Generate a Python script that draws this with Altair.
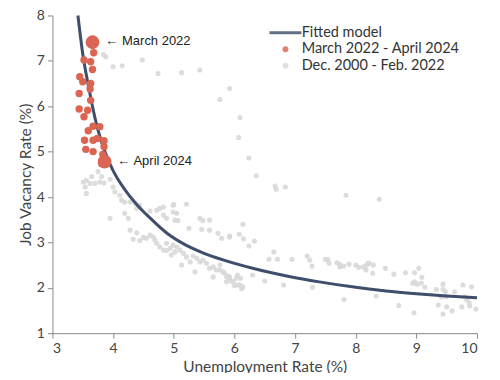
import altair as alt
import pandas as pd

# ---------------- data ----------------
SERIES = ["Fitted model", "March 2022 - April 2024", "Dec. 2000 - Feb. 2022"]

# fitted model (Beveridge curve)
fit_u = [3.42, 3.50, 3.60, 3.70, 3.80, 3.90, 4.00, 4.20, 4.40, 4.60, 4.90, 5.20,
         5.50, 5.80, 6.30, 6.90, 7.40, 8.00, 8.50, 9.00, 9.50, 10.00]
fit_v = [8.00, 7.15, 6.40, 5.75, 5.25, 4.88, 4.58, 4.15, 3.82, 3.55, 3.19, 2.94,
         2.76, 2.62, 2.43, 2.25, 2.13, 2.01, 1.93, 1.87, 1.82, 1.78]

# March 2022 - April 2024 (first = March 2022, last = April 2024)
red_u = [3.66, 3.68, 3.52, 3.63, 3.66, 3.45, 3.50, 3.63, 3.62, 3.44, 3.63, 3.44,
         3.58, 3.52, 3.67, 3.78, 3.59, 3.53, 3.67, 3.74, 3.85, 3.55, 3.67, 3.85,
         3.83, 3.81, 3.86]
red_v = [7.41, 7.18, 7.02, 6.98, 6.81, 6.65, 6.54, 6.50, 6.38, 6.28, 6.13, 5.94,
         5.91, 5.77, 5.56, 5.55, 5.46, 5.25, 5.25, 5.29, 5.24, 5.05, 5.00, 5.11,
         4.94, 4.74, 4.78]

# Dec. 2000 - Feb. 2022
gray_u = [3.84, 3.88, 4.00, 4.15, 4.48, 4.74, 5.13, 5.43, 5.92, 5.76, 6.09, 6.07,
          6.24, 6.36, 6.67, 6.69, 6.84, 7.84, 8.39,
          3.51, 3.56, 3.65, 3.62, 3.70, 3.78, 3.81, 3.85, 3.95, 3.75, 3.54, 3.56,
          4.00, 4.03, 4.11, 4.14, 4.19, 4.28, 4.36, 4.39, 4.44, 4.19, 4.25, 3.95,
          4.61, 4.72, 4.77, 4.83, 4.88, 4.99, 5.05, 5.02, 5.07, 4.99, 5.21, 5.25,
          5.43, 5.48, 5.59, 5.59, 5.46, 5.73, 5.79, 5.92, 5.00, 4.83,
          4.28, 4.39, 4.33, 4.44, 4.50, 4.55, 4.61, 4.66, 4.69, 4.72, 4.77, 4.83,
          4.88, 4.94, 4.99, 5.02, 5.05, 5.10, 5.16, 5.21, 5.27, 5.32, 5.38, 5.35,
          5.43, 5.48, 5.54, 5.59, 5.65, 5.70, 5.76, 5.81, 5.87, 5.92, 5.98, 6.03,
          5.65, 5.87, 4.96, 5.13, 4.88,
          6.14, 5.92, 6.08, 6.15, 6.33, 6.24, 6.65, 6.57, 6.71, 6.95, 7.20, 7.24,
          7.28, 7.50, 7.54, 7.56, 7.69, 7.74, 7.80, 7.89, 8.00, 8.05, 8.18, 8.17,
          8.20, 8.29, 8.28, 8.49, 8.63, 8.82, 8.97, 9.04, 9.09, 8.97, 9.01, 9.08,
          9.14, 8.94,
          9.33, 9.44, 9.44, 9.48, 9.41, 9.49, 9.63, 9.77, 9.91, 9.80, 9.83, 9.87,
          9.88, 9.98, 9.75, 9.59, 9.50, 9.44, 9.36, 8.96, 8.71, 8.34, 7.81, 7.29,
          6.81, 6.50, 6.30, 6.14, 6.10, 6.09, 5.92, 5.95, 6.05, 6.00, 6.12,
          5.76, 5.84, 5.90, 6.06, 7.73, 8.13, 8.22]
gray_v = [7.14, 7.09, 6.87, 6.89, 7.02, 6.72, 6.74, 6.80, 6.39, 6.15, 5.75, 5.31,
          4.86, 4.47, 4.24, 4.17, 4.22, 4.04, 3.95,
          4.33, 4.37, 4.45, 4.30, 4.30, 4.33, 4.45, 4.31, 4.39, 4.56, 4.22, 4.08,
          4.22, 4.11, 4.04, 3.93, 3.89, 3.89, 3.86, 3.75, 3.82, 3.64, 3.53, 3.53,
          3.69, 3.71, 3.75, 3.60, 3.53, 3.67, 3.64, 3.49, 3.48, 3.82, 3.84, 3.31,
          3.53, 3.48, 3.49, 3.27, 3.29, 3.20, 3.09, 3.14, 3.84, 3.78,
          3.27, 3.21, 3.07, 3.04, 3.11, 3.09, 3.16, 3.12, 3.05, 2.98, 2.90, 2.83,
          2.82, 2.87, 2.94, 2.79, 2.90, 2.83, 2.76, 2.68, 2.57, 2.70, 2.65, 2.35,
          2.57, 2.61, 2.54, 2.43, 2.46, 2.39, 2.50, 2.35, 2.24, 2.24, 2.13, 2.21,
          2.24, 2.13, 2.72, 2.50, 2.98,
          3.40, 3.12, 3.18, 3.08, 3.03, 2.92, 2.79, 2.63, 2.63, 2.63, 2.70, 2.61,
          2.48, 2.63, 2.62, 2.54, 2.55, 2.46, 2.48, 2.52, 2.50, 2.45, 2.50, 2.39,
          2.54, 2.50, 2.32, 2.43, 2.30, 2.33, 2.33, 2.43, 2.23, 2.13, 2.08, 2.10,
          2.01, 2.10,
          1.96, 2.08, 1.96, 1.91, 1.80, 1.80, 1.91, 2.06, 2.02, 1.80, 1.74, 1.67,
          1.60, 1.53, 1.58, 1.49, 1.58, 1.42, 1.62, 1.45, 1.61, 1.82, 1.74, 2.01,
          2.06, 2.15, 2.28, 2.02, 2.21, 2.06, 2.21, 2.15, 2.28, 2.05, 1.98,
          2.39, 2.32, 2.26, 2.06, 2.52, 2.46, 2.54]

ann_text = ["\u2190 March 2022", "\u2190 April 2024"]

# ---------------- tables ----------------
fit_df = pd.DataFrame({"u": fit_u, "v": fit_v})
red_df = pd.DataFrame({"u": red_u, "v": red_v, "series": SERIES[1]})
red_df["endpoint"] = [i in (0, len(red_u) - 1) for i in range(len(red_u))]
gray_df = pd.DataFrame({"u": gray_u, "v": gray_v, "series": SERIES[2]})
ann_df = pd.DataFrame({"u": [red_u[0], red_u[-1]], "v": [red_v[0], red_v[-1]],
                       "text": ann_text})

COLORS = ["#3F4E6B", "#DB6453", "#D8D8D8"]
LINE_SYMBOL = "M-5.4,-0.5L5.4,-0.5L5.4,0.5L-5.4,0.5Z"

x_enc = alt.X("u:Q", scale=alt.Scale(domain=[3, 10], nice=False),
              axis=alt.Axis(values=list(range(3, 11)), format="d",
                            title="Unemployment Rate (%)",
                            titlePadding=4, labelPadding=3))
y_enc = alt.Y("v:Q", scale=alt.Scale(domain=[1, 8], nice=False),
              axis=alt.Axis(values=list(range(1, 9)), format="d",
                            title="Job Vacancy Rate (%)",
                            titlePadding=3, labelPadding=3))

color_enc = alt.Color("series:N",
                      scale=alt.Scale(domain=SERIES, range=COLORS),
                      legend=alt.Legend(title=None, orient="none", legendX=226, legendY=10,
                                        symbolSize=35, symbolStrokeWidth=0,
                                        labelFont="Lato", labelFontSize=14.5,
                                        labelColor="#333", rowPadding=1.5,
                                        labelOffset=9, labelLimit=400,
                                        symbolOpacity=1))
shape_enc = alt.Shape("series:N",
                      scale=alt.Scale(domain=SERIES, range=[LINE_SYMBOL, "circle", "circle"]))

gray_layer = alt.Chart(gray_df).mark_point(filled=True, opacity=0.9, size=26).encode(
    x=x_enc, y=y_enc, color=color_enc, shape=shape_enc)

line_layer = alt.Chart(fit_df).mark_line(color=COLORS[0], strokeWidth=3,
                                         interpolate="monotone").encode(
    x="u:Q", y="v:Q")

red_layer = alt.Chart(red_df).mark_point(filled=True, opacity=1).encode(
    x="u:Q", y="v:Q", color=color_enc, shape=shape_enc,
    size=alt.Size("endpoint:N", scale=alt.Scale(domain=[False, True], range=[55, 190]),
                  legend=None))

ann_layer = alt.Chart(ann_df).mark_text(align="left", baseline="middle", dx=13, dy=-1,
                                        font="Liberation Sans", fontSize=13,
                                        color="#222").encode(
    x="u:Q", y="v:Q", text="text:N")

chart = alt.layer(gray_layer, line_layer, red_layer, ann_layer).properties(
    width=425, height=318,
    autosize=alt.AutoSizeParams(type="none"),
    padding={"left": 44.5, "top": 7.3, "right": 15, "bottom": 40},
).configure_view(stroke=None).configure_axis(
    grid=False, domainColor="#8a8a8a", tickColor="#8a8a8a", tickSize=5,
    labelFont="Lato", titleFont="Lato", labelFontSize=14, titleFontSize=15.5,
    labelColor="#444", titleColor="#444", titleFontWeight="normal",
)

chart.save("out.html", embed_options={"renderer": "svg", "actions": False})
